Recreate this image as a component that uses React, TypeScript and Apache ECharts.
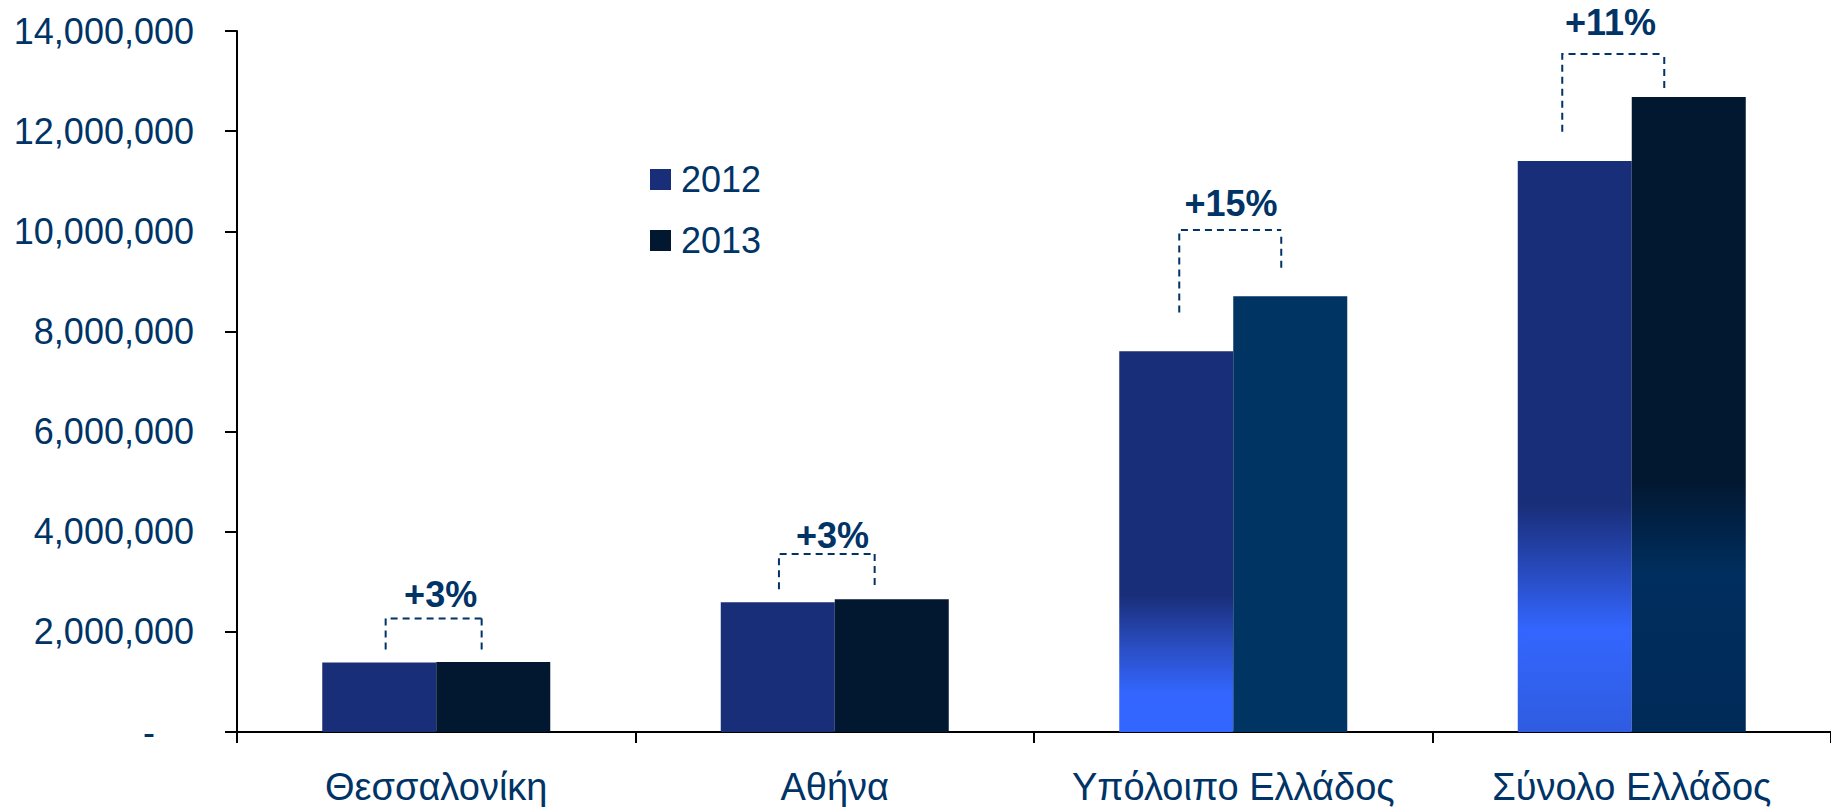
import { useEffect, useRef } from 'react';
import * as echarts from 'echarts';

// ---- data ----
const categories = ['Θεσσαλονίκη', 'Αθήνα', 'Υπόλοιπο Ελλάδος', 'Σύνολο Ελλάδος'];
const seriesNames = ['2012', '2013'];
const values2012 = [1390000, 2590000, 7606000, 11403000];
const values2013 = [1400000, 2650000, 8705000, 12682000];
const changeLabels = ['+3%', '+3%', '+15%', '+11%'];
const yMin = 0;
const yMax = 14000000;
const yInterval = 2000000;
// bracket anchors (in axis value units)
const bracketTop = [2266000, 3556000, 10024000, 13540000];
const bracketLeftBottom = [1646000, 2851000, 8380000, 11988000];
const bracketRightTop = [2266000, 3556000, 9890000, 13480000];
const bracketRightBottom = [1646000, 2931000, 9271000, 12841000];

// ---- layout (pixel offsets from category centre) ----
const LEFT_DX = [-50.6, -55.8, -54, -69.5];
const RIGHT_DX = [45.4, 39.9, 48, 32.5];
const LABEL_DX = [4.4, -2.3, -2.3, -21.2];
const LABEL_DY = [23.6, 18.7, 27, 31.5];

const FONT = '"Liberation Sans", Arial, Helvetica, sans-serif';
const TEXT_COLOR = '#003366';
const C2012 = '#192e78';
const C2013 = '#021730';

const grad = (stops: [number, string][]) =>
  new echarts.graphic.LinearGradient(0, 0, 0, 1, stops.map(([offset, color]) => ({ offset, color })));

const fills2012 = [
  C2012,
  C2012,
  grad([[0, C2012], [0.64, C2012], [0.78, '#2a4ec4'], [0.9, '#3366ff'], [1, '#3366ff']]),
  grad([[0, C2012], [0.6, C2012], [0.71, '#2648b8'], [0.82, '#3366ff'], [1, '#2f5ce0']]),
];
const fills2013 = [
  C2013,
  C2013,
  '#003463',
  grad([[0, C2013], [0.6, C2013], [0.75, '#002e5e'], [1, '#002a58']]),
];

export default function App() {
  const ref = useRef<HTMLDivElement>(null);

  useEffect(() => {
    document.body.style.margin = '0';
    document.body.style.overflow = 'hidden';
    if (!ref.current) return;
    const chart = echarts.init(ref.current, undefined, { renderer: 'svg' });

    const dashStyle = { stroke: TEXT_COLOR, lineWidth: 2, lineDash: [7, 5], fill: null };

    chart.setOption({
      animation: false,
      backgroundColor: '#ffffff',
      textStyle: { fontFamily: FONT },
      legend: {
        data: seriesNames,
        orient: 'vertical',
        left: 650,
        top: 161.5,
        padding: 0,
        itemGap: 25,
        itemWidth: 21,
        itemHeight: 21,
        icon: 'rect',
        selectedMode: false,
        textStyle: { fontSize: 36, lineHeight: 36, color: TEXT_COLOR, fontFamily: FONT, padding: [0, 0, 0, 5] },
      },
      grid: { left: 237, top: 31, width: 1597, height: 701, containLabel: false },
      xAxis: {
        type: 'category',
        data: categories,
        axisLine: { show: true, lineStyle: { color: '#000', width: 2 } },
        axisTick: { show: true, length: 11, lineStyle: { color: '#000', width: 2 } },
        axisLabel: { interval: 0, fontSize: 38, lineHeight: 38, color: TEXT_COLOR, fontFamily: FONT, margin: 36 },
        splitLine: { show: false },
      },
      yAxis: {
        type: 'value',
        min: yMin,
        max: yMax,
        interval: yInterval,
        axisLine: { show: true, lineStyle: { color: '#000', width: 2 } },
        axisTick: { show: true, length: 12, lineStyle: { color: '#000', width: 2 } },
        splitLine: { show: false },
        axisLabel: {
          fontSize: 36,
          color: TEXT_COLOR,
          fontFamily: FONT,
          margin: 43,
          formatter: (v: number) => (v === 0 ? '{z|-}' : v.toLocaleString('en-US')),
          rich: { z: { fontSize: 36, color: TEXT_COLOR, fontFamily: FONT, padding: [0, 39, 0, 0] } },
        },
      },
      series: [
        {
          name: seriesNames[0],
          type: 'bar',
          barWidth: 114,
          barGap: '0%',
          itemStyle: { color: C2012 },
          data: values2012.map((v, i) => ({ value: v, itemStyle: { color: fills2012[i] } })),
        },
        {
          name: seriesNames[1],
          type: 'bar',
          barWidth: 114,
          barGap: '0%',
          itemStyle: { color: C2013 },
          data: values2013.map((v, i) => ({ value: v, itemStyle: { color: fills2013[i] } })),
        },
        {
          name: 'brackets',
          type: 'custom',
          silent: true,
          clip: false,
          z: 5,
          data: categories.map((_, i) => [i, bracketTop[i], bracketLeftBottom[i], bracketRightTop[i], bracketRightBottom[i]]),
          renderItem: (_params: any, api: any) => {
            const i = api.value(0);
            const [cx, yTop] = api.coord([i, api.value(1)]);
            const yLB = api.coord([i, api.value(2)])[1];
            const yRT = api.coord([i, api.value(3)])[1];
            const yRB = api.coord([i, api.value(4)])[1];
            const xl = cx + LEFT_DX[i];
            const xr = cx + RIGHT_DX[i];
            return {
              type: 'group',
              children: [
                { type: 'polyline', shape: { points: [[xl, yLB], [xl, yTop], [xr, yTop]] }, style: dashStyle },
                { type: 'line', shape: { x1: xr, y1: yRT, x2: xr, y2: yRB }, style: dashStyle },
                {
                  type: 'text',
                  style: {
                    text: changeLabels[i],
                    x: cx + LABEL_DX[i],
                    y: yTop - LABEL_DY[i],
                    align: 'center',
                    verticalAlign: 'middle',
                    font: `bold 36px ${FONT}`,
                    fill: TEXT_COLOR,
                  },
                },
              ],
            };
          },
        },
      ],
    });

    return () => chart.dispose();
  }, []);

  return <div ref={ref} style={{ width: 1831, height: 807 }} />;
}
